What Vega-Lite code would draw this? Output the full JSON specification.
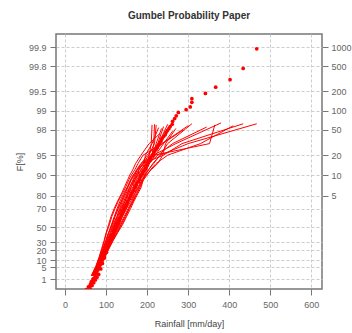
{
  "$schema": "https://vega.github.io/schema/vega-lite/v6.json",
  "width": 266,
  "height": 255,
  "autosize": {"type": "none"},
  "padding": {"left": 56, "top": 34, "right": 30, "bottom": 44},
  "background": "white",
  "title": {"text": "Gumbel Probability Paper", "fontSize": 10, "fontWeight": "bold", "font": "Liberation Sans", "color": "#333333", "offset": 13, "anchor": "middle"},
  "config": {
    "view": {"stroke": "#777777", "strokeWidth": 1.5},
    "axis": {"labelFont": "Liberation Sans", "labelFontSize": 9, "labelColor": "#666666", "tickColor": "#777777", "domain": false, "titleFont": "Liberation Sans", "titleFontSize": 9, "titleFontWeight": "normal", "titleColor": "#444444", "labelOverlap": false, "labelBound": false, "labelFlush": false, "gridColor": "#cccccc", "gridDash": [3, 2], "gridWidth": 1}
  },
  "datasets": {
    "lines": [
      {"s":1,"x":467,"y":4.12},{"s":1,"x":300,"y":3.40},{"s":1,"x":232,"y":2.98},{"s":1,"x":214,"y":2.68},{"s":1,"x":204,"y":2.45},{"s":1,"x":195,"y":2.26},{"s":1,"x":188,"y":2.10},{"s":1,"x":178,"y":1.83},{"s":1,"x":170,"y":1.60},{"s":1,"x":160,"y":1.31},{"s":1,"x":150,"y":1.05},{"s":1,"x":140,"y":0.75},{"s":1,"x":131,"y":0.45},{"s":1,"x":121,"y":0.16},{"s":1,"x":111,"y":-0.13},{"s":1,"x":102,"y":-0.42},{"s":1,"x":94,"y":-0.72},{"s":1,"x":85,"y":-1.05},{"s":1,"x":72,"y":-1.40},
      {"s":2,"x":434,"y":4.12},{"s":2,"x":285,"y":3.40},{"s":2,"x":240,"y":2.98},{"s":2,"x":190,"y":2.68},{"s":2,"x":176,"y":2.45},{"s":2,"x":166,"y":2.26},{"s":2,"x":160,"y":2.10},{"s":2,"x":152,"y":1.83},{"s":2,"x":143,"y":1.60},{"s":2,"x":134,"y":1.31},{"s":2,"x":127,"y":1.05},{"s":2,"x":120,"y":0.75},{"s":2,"x":113,"y":0.45},{"s":2,"x":106,"y":0.16},{"s":2,"x":100,"y":-0.13},{"s":2,"x":94,"y":-0.42},{"s":2,"x":87,"y":-0.72},{"s":2,"x":79,"y":-1.05},{"s":2,"x":68,"y":-1.40},
      {"s":3,"x":410,"y":4.05},{"s":3,"x":330,"y":3.40},{"s":3,"x":250,"y":2.98},{"s":3,"x":222,"y":2.68},{"s":3,"x":208,"y":2.45},{"s":3,"x":200,"y":2.26},{"s":3,"x":192,"y":2.10},{"s":3,"x":183,"y":1.83},{"s":3,"x":176,"y":1.60},{"s":3,"x":166,"y":1.31},{"s":3,"x":157,"y":1.05},{"s":3,"x":148,"y":0.75},{"s":3,"x":138,"y":0.45},{"s":3,"x":127,"y":0.16},{"s":3,"x":116,"y":-0.13},{"s":3,"x":106,"y":-0.42},{"s":3,"x":96,"y":-0.72},{"s":3,"x":86,"y":-1.05},{"s":3,"x":74,"y":-1.40},
      {"s":4,"x":365,"y":4.08},{"s":4,"x":352,"y":3.40},{"s":4,"x":218,"y":2.98},{"s":4,"x":190,"y":2.68},{"s":4,"x":180,"y":2.45},{"s":4,"x":172,"y":2.26},{"s":4,"x":166,"y":2.10},{"s":4,"x":158,"y":1.83},{"s":4,"x":149,"y":1.60},{"s":4,"x":140,"y":1.31},{"s":4,"x":133,"y":1.05},{"s":4,"x":126,"y":0.75},{"s":4,"x":117,"y":0.45},{"s":4,"x":110,"y":0.16},{"s":4,"x":102,"y":-0.13},{"s":4,"x":95,"y":-0.42},{"s":4,"x":87,"y":-0.72},{"s":4,"x":78,"y":-1.05},{"s":4,"x":66,"y":-1.40},
      {"s":5,"x":345,"y":4.00},{"s":5,"x":262,"y":3.40},{"s":5,"x":226,"y":2.98},{"s":5,"x":204,"y":2.68},{"s":5,"x":190,"y":2.45},{"s":5,"x":186,"y":2.26},{"s":5,"x":176,"y":2.10},{"s":5,"x":172,"y":1.83},{"s":5,"x":160,"y":1.60},{"s":5,"x":156,"y":1.31},{"s":5,"x":144,"y":1.05},{"s":5,"x":138,"y":0.75},{"s":5,"x":127,"y":0.45},{"s":5,"x":119,"y":0.16},{"s":5,"x":109,"y":-0.13},{"s":5,"x":101,"y":-0.42},{"s":5,"x":92,"y":-0.72},{"s":5,"x":83,"y":-1.05},{"s":5,"x":70,"y":-1.40},
      {"s":6,"x":309,"y":4.12},{"s":6,"x":250,"y":3.40},{"s":6,"x":232,"y":2.98},{"s":6,"x":216,"y":2.68},{"s":6,"x":203,"y":2.45},{"s":6,"x":194,"y":2.26},{"s":6,"x":189,"y":2.10},{"s":6,"x":180,"y":1.83},{"s":6,"x":171,"y":1.60},{"s":6,"x":163,"y":1.31},{"s":6,"x":154,"y":1.05},{"s":6,"x":144,"y":0.75},{"s":6,"x":134,"y":0.45},{"s":6,"x":124,"y":0.16},{"s":6,"x":114,"y":-0.13},{"s":6,"x":104,"y":-0.42},{"s":6,"x":95,"y":-0.72},{"s":6,"x":86,"y":-1.05},{"s":6,"x":73,"y":-1.40},
      {"s":7,"x":288,"y":3.90},{"s":7,"x":238,"y":3.40},{"s":7,"x":190,"y":2.98},{"s":7,"x":178,"y":2.68},{"s":7,"x":170,"y":2.45},{"s":7,"x":162,"y":2.26},{"s":7,"x":156,"y":2.10},{"s":7,"x":148,"y":1.83},{"s":7,"x":140,"y":1.60},{"s":7,"x":130,"y":1.31},{"s":7,"x":122,"y":1.05},{"s":7,"x":114,"y":0.75},{"s":7,"x":108,"y":0.45},{"s":7,"x":101,"y":0.16},{"s":7,"x":96,"y":-0.13},{"s":7,"x":90,"y":-0.42},{"s":7,"x":84,"y":-0.72},{"s":7,"x":76,"y":-1.05},{"s":7,"x":64,"y":-1.40},
      {"s":8,"x":258,"y":4.05},{"s":8,"x":232,"y":3.40},{"s":8,"x":208,"y":2.98},{"s":8,"x":198,"y":2.68},{"s":8,"x":184,"y":2.45},{"s":8,"x":181,"y":2.26},{"s":8,"x":170,"y":2.10},{"s":8,"x":166,"y":1.83},{"s":8,"x":154,"y":1.60},{"s":8,"x":150,"y":1.31},{"s":8,"x":139,"y":1.05},{"s":8,"x":134,"y":0.75},{"s":8,"x":122,"y":0.45},{"s":8,"x":117,"y":0.16},{"s":8,"x":106,"y":-0.13},{"s":8,"x":100,"y":-0.42},{"s":8,"x":90,"y":-0.72},{"s":8,"x":83,"y":-1.05},{"s":8,"x":70,"y":-1.40},
      {"s":9,"x":250,"y":4.10},{"s":9,"x":228,"y":3.40},{"s":9,"x":200,"y":2.98},{"s":9,"x":186,"y":2.68},{"s":9,"x":176,"y":2.45},{"s":9,"x":170,"y":2.26},{"s":9,"x":162,"y":2.10},{"s":9,"x":154,"y":1.83},{"s":9,"x":146,"y":1.60},{"s":9,"x":138,"y":1.31},{"s":9,"x":130,"y":1.05},{"s":9,"x":122,"y":0.75},{"s":9,"x":115,"y":0.45},{"s":9,"x":107,"y":0.16},{"s":9,"x":100,"y":-0.13},{"s":9,"x":93,"y":-0.42},{"s":9,"x":86,"y":-0.72},{"s":9,"x":78,"y":-1.05},{"s":9,"x":67,"y":-1.40},
      {"s":10,"x":235,"y":3.95},{"s":10,"x":222,"y":3.40},{"s":10,"x":214,"y":2.98},{"s":10,"x":204,"y":2.68},{"s":10,"x":194,"y":2.45},{"s":10,"x":186,"y":2.26},{"s":10,"x":180,"y":2.10},{"s":10,"x":171,"y":1.83},{"s":10,"x":165,"y":1.60},{"s":10,"x":156,"y":1.31},{"s":10,"x":148,"y":1.05},{"s":10,"x":139,"y":0.75},{"s":10,"x":131,"y":0.45},{"s":10,"x":122,"y":0.16},{"s":10,"x":112,"y":-0.13},{"s":10,"x":103,"y":-0.42},{"s":10,"x":94,"y":-0.72},{"s":10,"x":85,"y":-1.05},{"s":10,"x":72,"y":-1.40},
      {"s":11,"x":222,"y":4.08},{"s":11,"x":218,"y":3.40},{"s":11,"x":204,"y":2.98},{"s":11,"x":190,"y":2.68},{"s":11,"x":180,"y":2.45},{"s":11,"x":174,"y":2.26},{"s":11,"x":168,"y":2.10},{"s":11,"x":158,"y":1.83},{"s":11,"x":152,"y":1.60},{"s":11,"x":143,"y":1.31},{"s":11,"x":135,"y":1.05},{"s":11,"x":127,"y":0.75},{"s":11,"x":119,"y":0.45},{"s":11,"x":111,"y":0.16},{"s":11,"x":103,"y":-0.13},{"s":11,"x":96,"y":-0.42},{"s":11,"x":89,"y":-0.72},{"s":11,"x":80,"y":-1.05},{"s":11,"x":69,"y":-1.40},
      {"s":12,"x":212,"y":4.08},{"s":12,"x":210,"y":3.40},{"s":12,"x":205,"y":2.98},{"s":12,"x":200,"y":2.68},{"s":12,"x":198,"y":2.45},{"s":12,"x":196,"y":2.26},{"s":12,"x":190,"y":2.10},{"s":12,"x":186,"y":1.83},{"s":12,"x":178,"y":1.60},{"s":12,"x":168,"y":1.31},{"s":12,"x":160,"y":1.05},{"s":12,"x":150,"y":0.75},{"s":12,"x":140,"y":0.45},{"s":12,"x":128,"y":0.16},{"s":12,"x":117,"y":-0.13},{"s":12,"x":107,"y":-0.42},{"s":12,"x":97,"y":-0.72},{"s":12,"x":87,"y":-1.05},{"s":12,"x":75,"y":-1.40},
      {"s":13,"x":270,"y":3.95},{"s":13,"x":245,"y":3.40},{"s":13,"x":238,"y":2.98},{"s":13,"x":226,"y":2.68},{"s":13,"x":210,"y":2.45},{"s":13,"x":198,"y":2.26},{"s":13,"x":190,"y":2.10},{"s":13,"x":182,"y":1.83},{"s":13,"x":174,"y":1.60},{"s":13,"x":165,"y":1.31},{"s":13,"x":156,"y":1.05},{"s":13,"x":146,"y":0.75},{"s":13,"x":136,"y":0.45},{"s":13,"x":126,"y":0.16},{"s":13,"x":115,"y":-0.13},{"s":13,"x":105,"y":-0.42},{"s":13,"x":96,"y":-0.72},{"s":13,"x":86,"y":-1.05},{"s":13,"x":73,"y":-1.40},
      {"s":14,"x":380,"y":4.15},{"s":14,"x":270,"y":3.40},{"s":14,"x":215,"y":2.98},{"s":14,"x":185,"y":2.68},{"s":14,"x":174,"y":2.45},{"s":14,"x":168,"y":2.26},{"s":14,"x":161,"y":2.10},{"s":14,"x":153,"y":1.83},{"s":14,"x":146,"y":1.60},{"s":14,"x":137,"y":1.31},{"s":14,"x":129,"y":1.05},{"s":14,"x":121,"y":0.75},{"s":14,"x":114,"y":0.45},{"s":14,"x":106,"y":0.16},{"s":14,"x":99,"y":-0.13},{"s":14,"x":92,"y":-0.42},{"s":14,"x":85,"y":-0.72},{"s":14,"x":77,"y":-1.05},{"s":14,"x":66,"y":-1.40},
      {"s":15,"x":230,"y":3.75},{"s":15,"x":205,"y":3.40},{"s":15,"x":185,"y":2.98},{"s":15,"x":172,"y":2.68},{"s":15,"x":165,"y":2.45},{"s":15,"x":158,"y":2.26},{"s":15,"x":153,"y":2.10},{"s":15,"x":145,"y":1.83},{"s":15,"x":138,"y":1.60},{"s":15,"x":128,"y":1.31},{"s":15,"x":120,"y":1.05},{"s":15,"x":112,"y":0.75},{"s":15,"x":106,"y":0.45},{"s":15,"x":100,"y":0.16},{"s":15,"x":95,"y":-0.13},{"s":15,"x":89,"y":-0.42},{"s":15,"x":83,"y":-0.72},{"s":15,"x":75,"y":-1.05},{"s":15,"x":64,"y":-1.40},
      {"s":16,"x":240,"y":4.02},{"s":16,"x":226,"y":3.40},{"s":16,"x":212,"y":2.98},{"s":16,"x":200,"y":2.68},{"s":16,"x":188,"y":2.45},{"s":16,"x":183,"y":2.26},{"s":16,"x":174,"y":2.10},{"s":16,"x":168,"y":1.83},{"s":16,"x":158,"y":1.60},{"s":16,"x":152,"y":1.31},{"s":16,"x":141,"y":1.05},{"s":16,"x":135,"y":0.75},{"s":16,"x":124,"y":0.45},{"s":16,"x":118,"y":0.16},{"s":16,"x":107,"y":-0.13},{"s":16,"x":101,"y":-0.42},{"s":16,"x":91,"y":-0.72},{"s":16,"x":84,"y":-1.05},{"s":16,"x":71,"y":-1.40},
      {"s":17,"x":228,"y":3.98},{"s":17,"x":212,"y":3.40},{"s":17,"x":196,"y":2.98},{"s":17,"x":192,"y":2.68},{"s":17,"x":180,"y":2.45},{"s":17,"x":178,"y":2.26},{"s":17,"x":168,"y":2.10},{"s":17,"x":162,"y":1.83},{"s":17,"x":152,"y":1.60},{"s":17,"x":147,"y":1.31},{"s":17,"x":136,"y":1.05},{"s":17,"x":131,"y":0.75},{"s":17,"x":120,"y":0.45},{"s":17,"x":115,"y":0.16},{"s":17,"x":104,"y":-0.13},{"s":17,"x":98,"y":-0.42},{"s":17,"x":89,"y":-0.72},{"s":17,"x":82,"y":-1.05},{"s":17,"x":69,"y":-1.40},
      {"s":18,"x":218,"y":4.10},{"s":18,"x":216,"y":3.40},{"s":18,"x":212,"y":2.98},{"s":18,"x":196,"y":2.68},{"s":18,"x":192,"y":2.45},{"s":18,"x":182,"y":2.26},{"s":18,"x":179,"y":2.10},{"s":18,"x":168,"y":1.83},{"s":18,"x":164,"y":1.60},{"s":18,"x":153,"y":1.31},{"s":18,"x":147,"y":1.05},{"s":18,"x":136,"y":0.75},{"s":18,"x":129,"y":0.45},{"s":18,"x":119,"y":0.16},{"s":18,"x":111,"y":-0.13},{"s":18,"x":101,"y":-0.42},{"s":18,"x":94,"y":-0.72},{"s":18,"x":84,"y":-1.05},{"s":18,"x":73,"y":-1.40},
      {"s":19,"x":262,"y":3.85},{"s":19,"x":240,"y":3.40},{"s":19,"x":220,"y":2.98},{"s":19,"x":206,"y":2.68},{"s":19,"x":198,"y":2.45},{"s":19,"x":188,"y":2.26},{"s":19,"x":184,"y":2.10},{"s":19,"x":172,"y":1.83},{"s":19,"x":167,"y":1.60},{"s":19,"x":156,"y":1.31},{"s":19,"x":150,"y":1.05},{"s":19,"x":139,"y":0.75},{"s":19,"x":132,"y":0.45},{"s":19,"x":121,"y":0.16},{"s":19,"x":113,"y":-0.13},{"s":19,"x":103,"y":-0.42},{"s":19,"x":95,"y":-0.72},{"s":19,"x":86,"y":-1.05},{"s":19,"x":74,"y":-1.40},
      {"s":20,"x":300,"y":4.05},{"s":20,"x":236,"y":3.40},{"s":20,"x":210,"y":2.98},{"s":20,"x":194,"y":2.68},{"s":20,"x":186,"y":2.45},{"s":20,"x":176,"y":2.26},{"s":20,"x":172,"y":2.10},{"s":20,"x":161,"y":1.83},{"s":20,"x":156,"y":1.60},{"s":20,"x":145,"y":1.31},{"s":20,"x":139,"y":1.05},{"s":20,"x":128,"y":0.75},{"s":20,"x":122,"y":0.45},{"s":20,"x":112,"y":0.16},{"s":20,"x":105,"y":-0.13},{"s":20,"x":96,"y":-0.42},{"s":20,"x":90,"y":-0.72},{"s":20,"x":80,"y":-1.05},{"s":20,"x":68,"y":-1.40}
    ],
    "pts": [
      {"x":467,"y":6.84},{"x":434,"y":6.13},{"x":402,"y":5.72},{"x":367,"y":5.45},{"x":342,"y":5.22},{"x":309,"y":5.03},{"x":309,"y":4.90},{"x":305,"y":4.73},{"x":295,"y":4.63},{"x":276,"y":4.53},
      {"x":271,"y":4.41},{"x":267,"y":4.31},{"x":262,"y":4.21},{"x":261,"y":4.10},{"x":256,"y":4.02},{"x":253,"y":3.94},{"x":249,"y":3.87},{"x":246,"y":3.80},{"x":244,"y":3.72},{"x":240,"y":3.66},{"x":236,"y":3.58},{"x":234,"y":3.49},{"x":231,"y":3.42},{"x":227,"y":3.35},{"x":225,"y":3.26},{"x":222,"y":3.19},{"x":218,"y":3.12},{"x":216,"y":3.03},{"x":213,"y":2.96},{"x":209,"y":2.88},{"x":207,"y":2.79},{"x":203,"y":2.71},{"x":200,"y":2.61},{"x":197,"y":2.50},{"x":192,"y":2.41},{"x":190,"y":2.30},{"x":185,"y":2.21},{"x":182,"y":2.10},{"x":179,"y":2.01},{"x":174,"y":1.90},{"x":171,"y":1.81},{"x":168,"y":1.70},{"x":163,"y":1.61},{"x":160,"y":1.50},{"x":157,"y":1.41},{"x":152,"y":1.30},{"x":150,"y":1.21},{"x":146,"y":1.10},{"x":143,"y":1.01},{"x":139,"y":0.90},{"x":137,"y":0.81},{"x":133,"y":0.70},{"x":131,"y":0.61},{"x":128,"y":0.50},{"x":124,"y":0.41},{"x":122,"y":0.30},{"x":118,"y":0.21},{"x":116,"y":0.10},{"x":113,"y":0.01},{"x":110,"y":-0.10},{"x":107,"y":-0.19},{"x":105,"y":-0.30},{"x":102,"y":-0.39},{"x":100,"y":-0.50},{"x":97,"y":-0.59},{"x":95,"y":-0.70},{"x":92,"y":-0.79},{"x":90,"y":-0.90},{"x":86,"y":-1.00},{"x":83,"y":-1.10},{"x":80,"y":-1.19},{"x":77,"y":-1.30},{"x":73,"y":-1.40},{"x":70,"y":-1.50},{"x":66,"y":-1.59},{"x":62,"y":-1.70},{"x":57,"y":-1.80},{"x":52,"y":-1.90},
      {"x":82,"y":-1.35},{"x":78,"y":-1.45},{"x":74,"y":-1.55},{"x":70,"y":-1.65},{"x":66,"y":-1.75},{"x":61,"y":-1.85},{"x":87,"y":-1.15},{"x":91,"y":-0.95},{"x":96,"y":-0.75},{"x":101,"y":-0.55},{"x":105,"y":-0.35},{"x":109,"y":-0.15},{"x":64,"y":-1.62},{"x":68,"y":-1.52},{"x":59,"y":-1.78}
    ]
  },
  "layer": [
    {
      "data": {"name": "lines"},
      "mark": {"type": "line", "color": "#ff0000", "strokeWidth": 1, "clip": true},
      "encoding": {
        "x": {"field": "x", "type": "quantitative", "scale": {"domain": [-22, 626], "nice": false, "zero": false},
          "axis": {"title": "Rainfall [mm/day]", "values": [0,50,100,150,200,250,300,350,400,450,500,550,600], "labelExpr": "datum.value % 100 === 0 ? datum.label : ''", "tickOpacity": {"condition": {"test": "datum.value % 100 !== 0", "value": 0}, "value": 1}, "grid": true, "tickSize": 6, "labelPadding": 5, "titlePadding": 10}},
        "y": {"field": "y", "type": "quantitative", "scale": {"domain": [-1.88, 7.38], "nice": false, "zero": false},
          "axis": {"orient": "left", "title": "F[%]", "values": [-1.52718,-1.09719,-0.834032,-0.475885,-0.185627,0.366513,1.03093,1.49994,2.250367,2.970195,3.901939,4.600149,5.295812,6.213607,6.907255], "labelExpr": "format(100*exp(-exp(-datum.value)), '.3~g')", "grid": true, "tickSize": 6, "labelPadding": 4, "titlePadding": 4}},
        "detail": {"field": "s", "type": "nominal"},
        "order": {"field": "y", "type": "quantitative"}
      }
    },
    {
      "data": {"name": "pts"},
      "mark": {"type": "circle", "color": "#ff0000", "size": 14, "opacity": 1, "clip": true},
      "encoding": {
        "x": {"field": "x", "type": "quantitative"},
        "y": {"field": "y", "type": "quantitative",
          "axis": {"orient": "right", "title": null, "values": [1.49994,2.250367,2.970195,3.901939,4.600149,5.295812,6.213607,6.907255], "labelExpr": "'' + round(1/(1-exp(-exp(-datum.value))))", "grid": false, "tickSize": 6, "labelPadding": 3}}
      }
    }
  ],
  "resolve": {"axis": {"y": "independent"}}
}
